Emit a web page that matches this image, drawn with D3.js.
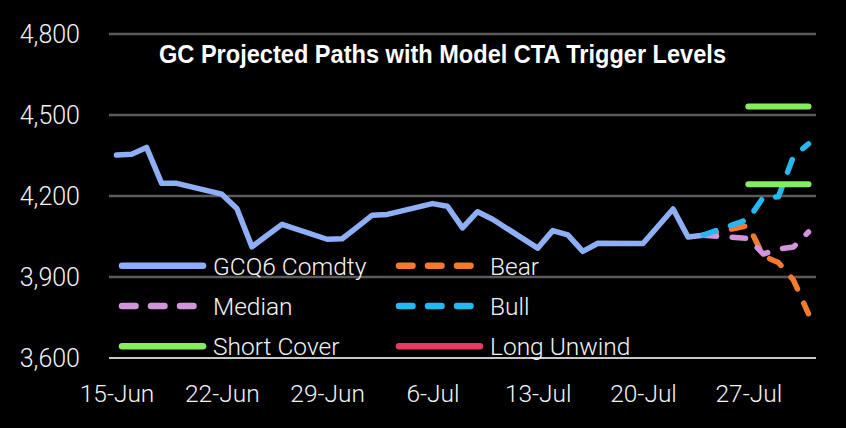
<!DOCTYPE html>
<html>
<head>
<meta charset="utf-8">
<script src="https://cdn.jsdelivr.net/npm/d3@7/dist/d3.min.js"></script>
<style>
  html, body { margin: 0; padding: 0; background: #000; }
  svg { display: block; }
</style>
</head>
<body>
<svg id="chart" width="846" height="428"></svg>
<script>
// ---------------- data ----------------
const histDates = [
  "2026-06-15","2026-06-16","2026-06-17","2026-06-18","2026-06-19",
  "2026-06-22","2026-06-23","2026-06-24","2026-06-25","2026-06-26",
  "2026-06-29","2026-06-30","2026-07-01","2026-07-02","2026-07-03",
  "2026-07-06","2026-07-07","2026-07-08","2026-07-09","2026-07-10",
  "2026-07-13","2026-07-14","2026-07-15","2026-07-16","2026-07-17",
  "2026-07-20","2026-07-21","2026-07-22","2026-07-23","2026-07-24"
];
const gcq6 = [
  4350, 4353, 4378, 4245, 4245,
  4205, 4152, 4010, 4052, 4093,
  4038, 4040, 4083, 4127, 4130,
  4170, 4160, 4080, 4140, 4112,
  4005, 4070, 4054, 3993, 4023,
  4022, 4086, 4150, 4046, 4053
];
const projDates = ["2026-07-24","2026-07-27","2026-07-28","2026-07-29","2026-07-30","2026-07-31"];
const bear   = [4053, 4089, 3976, 3952, 3887, 3762];
const median = [4053, 4041, 3983, 4002, 4009, 4065];
const bull   = [4053, 4112, 4194, 4195, 4345, 4391];
const levelDates = ["2026-07-27","2026-07-31"];
const shortCover = [4530, 4242];
const longUnwind = []; // no levels within the visible range
const yTicks = [3600, 3900, 4200, 4500, 4800];
const xTickDates = ["2026-06-15","2026-06-22","2026-06-29","2026-07-06","2026-07-13","2026-07-20","2026-07-27"];
const titleText = "GC Projected Paths with Model CTA Trigger Levels";
const legendNames = ["GCQ6 Comdty","Bear","Median","Bull","Short Cover","Long Unwind"];

// ---------------- styles ----------------
const colors = {
  "GCQ6 Comdty": "#8eaef5",
  "Bear": "#f47a2e",
  "Median": "#d393dd",
  "Bull": "#25b8f3",
  "Short Cover": "#84ee5c",
  "Long Unwind": "#e8395f"
};
const dashed = { "Bear": true, "Median": true, "Bull": true };
const DASH = "13.5,15.5";
const FONT = "Roboto, 'Liberation Sans', sans-serif";

const parse = s => { const [yy,m,d] = s.split("-").map(Number); return new Date(Date.UTC(yy, m-1, d)); };
const DAY = 864e5;

const svg = d3.select("#chart");
const pLeft = 109, pRight = 816, pTop = 33.5, pBottom = 357.5;

const x = d3.scaleUtc()
  .domain([new Date(+parse("2026-06-15") - DAY/2), new Date(+parse("2026-07-31") + DAY/2)])
  .range([pLeft, pRight]);
const y = d3.scaleLinear().domain([3600, 4800]).range([pBottom, pTop]);

// gridlines
const yAxis = d3.axisLeft(y).tickValues(yTicks).tickSize(-(pRight-pLeft)).tickFormat(d3.format(","));
const gy = svg.append("g").attr("transform", `translate(${pLeft},0)`).call(yAxis);
gy.select(".domain").remove();
gy.selectAll(".tick line")
  .attr("stroke", d => d === 3600 ? "#c8c8c8" : "#5a5a5a")
  .attr("stroke-width", d => d === 3600 ? 2 : 2.5);
gy.selectAll(".tick text")
  .attr("x", 80 - pLeft)
  .attr("dy", "0.35em")
  .attr("fill", "#f4f4f4")
  .style("font-family", FONT).style("font-weight", 300).style("font-size", "25px")
  .attr("text-anchor", "end");

// x axis
const xAxis = d3.axisBottom(x).tickValues(xTickDates.map(parse)).tickSize(0).tickFormat(d3.utcFormat("%-d-%b"));
const gx = svg.append("g").attr("transform", `translate(0,${pBottom})`).call(xAxis);
gx.select(".domain").remove();
gx.selectAll(".tick text")
  .attr("y", 0).attr("dy", 0)
  .attr("transform", "translate(0,44.5)")
  .attr("fill", "#f4f4f4")
  .style("font-family", FONT).style("font-weight", 300).style("font-size", "24.5px");

// lines
const line = d3.line().x(d => x(d.date)).y(d => y(d.v));
const mk = (dates, vals) => dates.map((d, i) => ({ date: parse(d), v: vals[i] }));

const series = [
  { name: "GCQ6 Comdty", data: mk(histDates, gcq6) },
  { name: "Bear", data: mk(projDates, bear) },
  { name: "Median", data: mk(projDates, median) },
  { name: "Bull", data: mk(projDates, bull) }
];
const plot = svg.append("g");
series.forEach(s => {
  plot.append("path")
    .attr("d", line(s.data))
    .attr("fill", "none")
    .attr("stroke", colors[s.name])
    .attr("stroke-width", 5.5)
    .attr("stroke-linejoin", "round")
    .attr("stroke-linecap", "round")
    .attr("stroke-dasharray", dashed[s.name] ? DASH : null);
});
shortCover.forEach(v => {
  plot.append("path")
    .attr("d", line(levelDates.map(d => ({ date: parse(d), v }))))
    .attr("stroke", colors["Short Cover"]).attr("stroke-width", 6)
    .attr("stroke-linecap", "round").attr("fill", "none");
});
longUnwind.forEach(v => {
  plot.append("path")
    .attr("d", line(levelDates.map(d => ({ date: parse(d), v }))))
    .attr("stroke", colors["Long Unwind"]).attr("stroke-width", 6)
    .attr("stroke-linecap", "round").attr("fill", "none");
});

// legend
const legend = svg.append("g");
legendNames.forEach((name, i) => {
  const col = i % 2, row = Math.floor(i / 2);
  const lx = 122 + col * 277;
  const ly = 265.7 + row * 40.3;
  legend.append("line")
    .attr("x1", lx).attr("x2", lx + 81).attr("y1", ly).attr("y2", ly)
    .attr("stroke", colors[name]).attr("stroke-width", 6.5)
    .attr("stroke-linecap", "round")
    .attr("stroke-dasharray", dashed[name] ? DASH : null);
  legend.append("text")
    .attr("x", lx + 91).attr("y", ly + 9)
    .attr("fill", "#f4f4f4")
    .style("font-family", FONT).style("font-weight", 300).style("font-size", "24.5px")
    .text(name);
});

// title
svg.append("text")
  .attr("x", 159).attr("y", 63)
  .attr("fill", "#ffffff")
  .attr("textLength", 567)
  .attr("lengthAdjust", "spacingAndGlyphs")
  .style("font-family", "'Liberation Sans', Arial, sans-serif")
  .style("font-weight", "bold").style("font-size", "25.5px")
  .text(titleText);
</script>
</body>
</html>
